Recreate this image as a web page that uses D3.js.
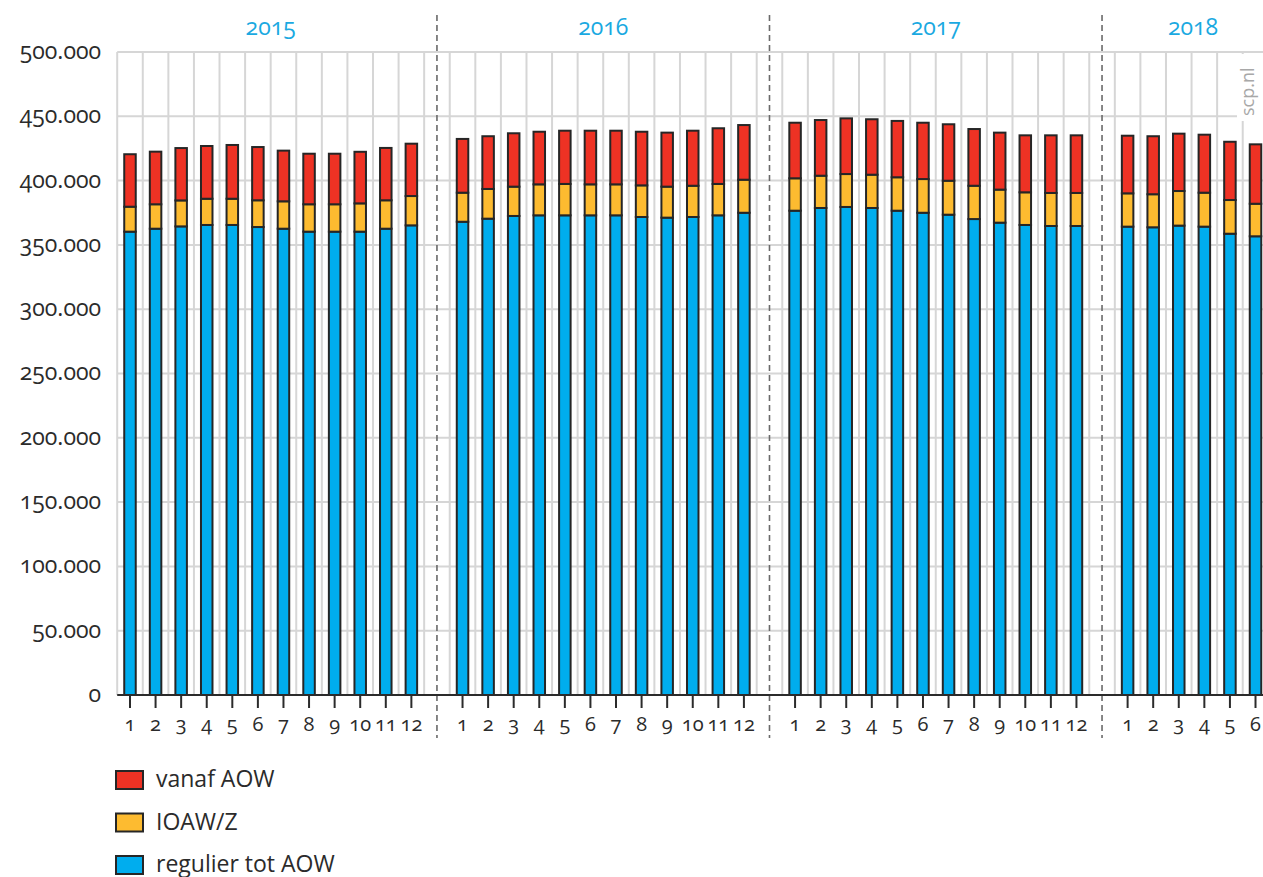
<!DOCTYPE html>
<html>
<head>
<meta charset="utf-8">
<script src="https://cdn.jsdelivr.net/npm/d3@7"></script>
<style>
  html, body { margin: 0; padding: 0; background: #fff; }
  svg text { font-family: "Open Sans", "Lato", sans-serif; font-feature-settings: "onum"; font-variant-numeric: oldstyle-nums; }
</style>
</head>
<body>
<svg id="chart" width="1263" height="877"></svg>
<script>
// Uitkeringen per maand, 2015 t/m juni 2018
const years = ["2015", "2016", "2017", "2018"];
const monthsPerYear = [12, 12, 12, 6];

const regulierTotAOW = [
  360300, 362600, 364400, 365500, 365500, 363900, 362600, 360300, 360300, 360300, 362600, 365200,
  368000, 370400, 372500, 373000, 373000, 373000, 373000, 371700, 371200, 371700, 373000, 375000,
  376600, 378700, 379500, 378700, 376600, 375000, 373500, 370100, 367300, 365500, 364700, 364700,
  364200, 363700, 365000, 364200, 358700, 356700
];
const ioawZ = [
  19400, 19000, 20200, 20400, 20400, 20800, 21300, 21300, 21300, 22000, 22100, 22800,
  22600, 23100, 22800, 24100, 24400, 24100, 24100, 24600, 24100, 24300, 24400, 25700,
  25200, 25100, 25600, 25900, 26000, 26200, 26400, 25900, 25700, 25400, 25700, 25700,
  25900, 25700, 26900, 26400, 26200, 25300
];
const vanafAOW = [
  40800, 40900, 40700, 41000, 41800, 41400, 39400, 39300, 39300, 40100, 40700, 40700,
  41800, 41000, 41500, 40900, 41400, 41700, 41700, 41700, 42000, 42800, 43300, 42500,
  43200, 43300, 43300, 43100, 43800, 43800, 43900, 44100, 44300, 44300, 44800, 44800,
  44800, 45100, 44600, 45100, 45300, 46200
];

const seriesKeys = ["regulier", "ioaw", "vanaf"];
const seriesLabels = { vanaf: "vanaf AOW", ioaw: "IOAW/Z", regulier: "regulier tot AOW" };
const colors = { regulier: "#00adee", ioaw: "#fdbb30", vanaf: "#ee3224" };
const yTicks = [0, 50000, 100000, 150000, 200000, 250000, 300000, 350000, 400000, 450000, 500000];

// One row per month, plus an empty slot between the years
const rows = [];
const slots = [];
let k = 0;
years.forEach((yr, yi) => {
  for (let m = 1; m <= monthsPerYear[yi]; m++) {
    const key = yr + "-" + m;
    rows.push({ key, year: yr, month: m, regulier: regulierTotAOW[k], ioaw: ioawZ[k], vanaf: vanafAOW[k] });
    slots.push(key);
    k++;
  }
  if (yi < years.length - 1) slots.push("gap-" + yr);
});

const svg = d3.select("#chart");
const plotLeft = 117.2, slotStep = 25.58;
const plotTop = 52, plotBottom = 695;

const x = d3.scaleBand()
  .domain(slots)
  .range([plotLeft, plotLeft + slotStep * slots.length])
  .paddingInner(0.55)
  .paddingOuter(0.275);
const y = d3.scaleLinear().domain([0, 500000]).range([plotBottom, plotTop]);

const nl = d3.formatLocale({ decimal: ",", thousands: ".", grouping: [3], currency: ["€", ""] });
const fmt = nl.format(",");

// Grid
const grid = svg.append("g");
grid.selectAll("line.h").data(yTicks.filter(d => d > 0)).join("line")
  .attr("x1", plotLeft).attr("x2", 1263)
  .attr("y1", d => y(d)).attr("y2", d => y(d))
  .attr("stroke", "#d6d6d6").attr("stroke-width", 2);
const bounds = d3.range(slots.length + 1).map(i => plotLeft + i * x.step());
grid.selectAll("line.v").data(bounds).join("line")
  .attr("x1", d => d).attr("x2", d => d)
  .attr("y1", plotTop).attr("y2", plotBottom)
  .attr("stroke", "#d6d6d6").attr("stroke-width", 2);

// Watermark box
svg.append("rect").attr("x", 1237).attr("y", 54).attr("width", 30).attr("height", 67).attr("fill", "#fff");
svg.append("text")
  .attr("transform", "translate(1254,116) rotate(-90)")
  .attr("font-size", 18).attr("fill", "#a8a8a8")
  .style("font-feature-settings", "normal")
  .text("scp.nl");

// Year separators
const gapKeys = slots.filter(s => s.startsWith("gap"));
svg.append("g").selectAll("line").data(gapKeys).join("line")
  .attr("x1", d => x(d) + x.bandwidth() / 2).attr("x2", d => x(d) + x.bandwidth() / 2)
  .attr("y1", 15).attr("y2", 738)
  .attr("stroke", "#6a6a6a").attr("stroke-width", 1.6).attr("stroke-dasharray", "6,4");

// Stacked bars
const stack = d3.stack().keys(seriesKeys)(rows);
svg.append("g").selectAll("g").data(stack).join("g")
  .attr("fill", d => colors[d.key])
  .selectAll("rect").data(d => d).join("rect")
  .attr("x", d => x(d.data.key))
  .attr("width", x.bandwidth())
  .attr("y", d => y(d[1]))
  .attr("height", d => y(d[0]) - y(d[1]))
  .attr("stroke", "#262626").attr("stroke-width", 2);

// X axis
svg.append("line").attr("x1", plotLeft).attr("x2", 1263).attr("y1", plotBottom).attr("y2", plotBottom)
  .attr("stroke", "#2b2b2b").attr("stroke-width", 2);
const xt = svg.append("g").selectAll("g").data(rows).join("g")
  .attr("transform", d => `translate(${x(d.key) + x.bandwidth() / 2},0)`);
xt.append("line").attr("y1", plotBottom).attr("y2", 708).attr("stroke", "#2b2b2b").attr("stroke-width", 2);
xt.append("text").attr("y", 731).attr("text-anchor", "middle")
  .attr("font-size", 20).attr("fill", "#2b2b2b").text(d => d.month);

// Y axis labels
svg.append("g").selectAll("text").data(yTicks).join("text")
  .attr("x", 101).attr("y", d => y(d)).attr("dy", "0.3em")
  .attr("text-anchor", "end").attr("font-size", 23).attr("fill", "#2b2b2b")
  .text(d => fmt(d));

// Year labels, centred over twelve month slots
years.forEach(yr => {
  const ks = rows.filter(r => r.year === yr).map(r => r.key);
  const x0 = x(ks[0]) - x.step() * x.paddingInner() / 2;
  const cx = x0 + x.step() * 6;
  svg.append("text").attr("x", Math.min(cx, 1193)).attr("y", 35).attr("text-anchor", "middle")
    .attr("font-size", 23).attr("fill", "#1aa9e1").text(yr);
});

// Legend
const legendOrder = ["vanaf", "ioaw", "regulier"];
const lg = svg.append("g").selectAll("g").data(legendOrder).join("g")
  .attr("transform", (d, i) => `translate(0,${771 + i * 42.5})`);
lg.append("rect").attr("x", 116).attr("y", 0).attr("width", 27).attr("height", 18)
  .attr("fill", d => colors[d]).attr("stroke", "#262626").attr("stroke-width", 2);
lg.append("text").attr("x", 156).attr("y", 16).attr("font-size", 23).attr("fill", "#2b2b2b")
  .text(d => seriesLabels[d]);
</script>
</body>
</html>
